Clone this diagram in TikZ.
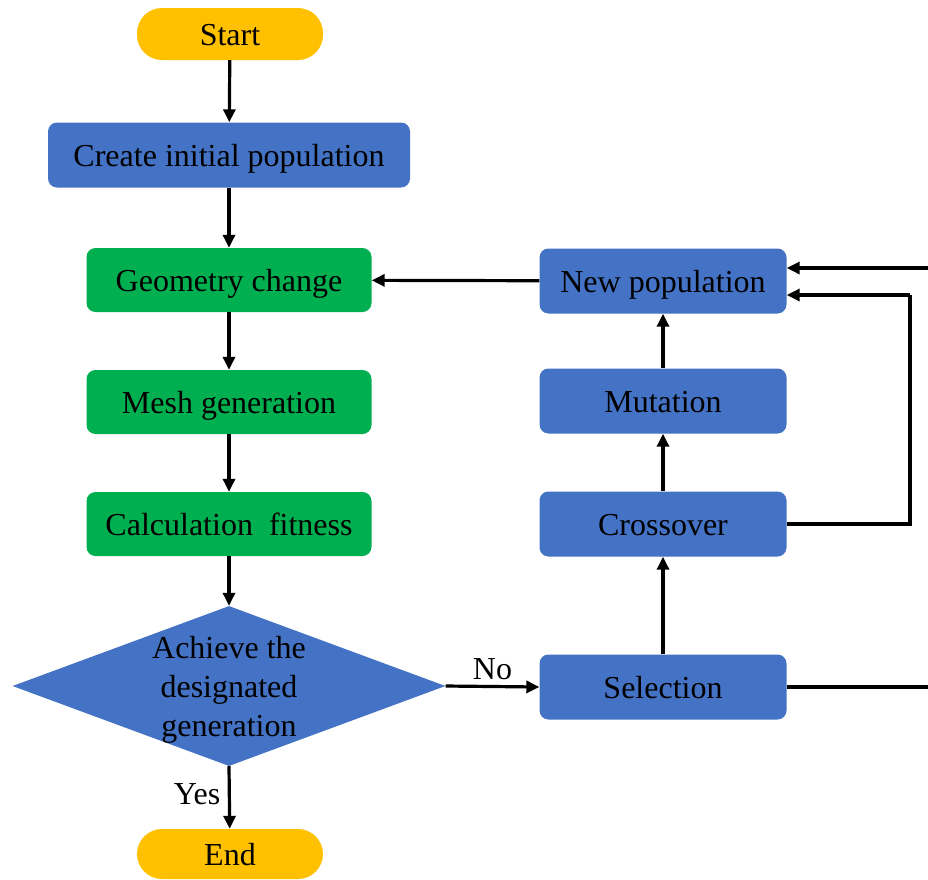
\documentclass[tikz,border=0pt]{standalone}
\usepackage{fontspec}
\setmainfont{Liberation Serif}
\usetikzlibrary{shapes.geometric,arrows.meta}
\definecolor{cblue}{HTML}{4472C4}
\definecolor{cgreen}{HTML}{00B050}
\definecolor{cyellow}{HTML}{FFC000}
\begin{document}
\begin{tikzpicture}[x=1pt,y=-1pt,
  box/.style={rectangle,rounded corners=9pt,inner sep=0pt,text height=22pt,text depth=0pt,font=\fontsize{32}{39}\selectfont},
  bluebox/.style={box,fill=cblue},
  greenbox/.style={box,fill=cgreen,minimum width=285pt,minimum height=64pt},
  rbox/.style={bluebox,minimum width=247pt,minimum height=65pt},
  pill/.style={rectangle,rounded corners=25pt,fill=cyellow,minimum width=186pt,inner sep=0pt,text height=22pt,text depth=0pt,font=\fontsize{32}{39}\selectfont},
  arr/.style={line width=3.2pt,-{Triangle[length=13pt,width=12pt]}},
  ln/.style={line width=3.2pt},
  lab/.style={font=\fontsize{32}{39}\selectfont}]
\useasboundingbox (0,0) rectangle (928,879);
\node[pill,minimum height=52pt] (start) at (230,34) {Start};
\node[bluebox,minimum width=362pt,minimum height=65pt] (create) at (229,155) {Create initial population};
\node[greenbox] (geo) at (229,280) {Geometry change};
\node[greenbox] (mesh) at (229,402) {Mesh generation};
\node[greenbox] (calc) at (229,524) {Calculation\ \ fitness};
\node[diamond,fill=cblue,minimum width=433pt,minimum height=160pt,inner sep=0pt,aspect=2.7] (dec) at (229,686) {};
\node[lab,align=center] (dectxt) at (229,690) {Achieve the\\designated\\generation};
\node[pill,minimum height=50pt] (end) at (230,854) {End};
\node[rbox] (newp) at (663,281) {New population};
\node[rbox] (mut) at (663,401) {Mutation};
\node[rbox] (cross) at (663,524) {Crossover};
\node[rbox] (sel) at (663,687) {Selection};
\coordinate (rtop) at (928,268);
\coordinate (rbot) at (928,687);
\coordinate (cx) at (910,524);
\coordinate (cy) at (910,295);
\draw[arr] (start) -- (create);
\draw[arr] (create) -- (geo);
\draw[arr] (geo) -- (mesh);
\draw[arr] (mesh) -- (calc);
\draw[arr] (calc) -- (dec.north);
\draw[arr] (dec.south) -- node[lab,left,pos=0.45,xshift=-4pt] {Yes} (end);
\draw[arr] (dec.east) -- node[lab,above,yshift=2pt] {No} (sel.west);
\draw[arr] (sel) -- (cross);
\draw[arr] (cross) -- (mut);
\draw[arr] (mut) -- (newp);
\draw[arr] (newp) -- (geo);
\draw[ln] (cross.east) -- (cx) -- (cy);
\draw[arr] (cy) -- (newp.east |- cy);
\draw[arr] (rtop) -- (newp.east |- rtop);
\draw[ln] (sel.east) -- (rbot);
\end{tikzpicture}
\end{document}
